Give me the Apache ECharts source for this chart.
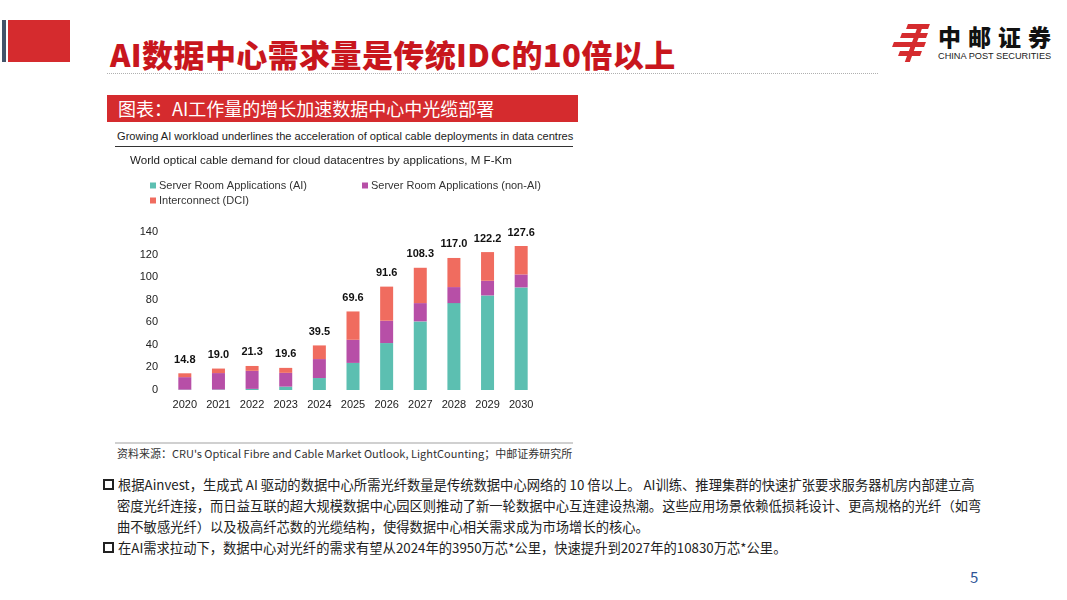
<!DOCTYPE html>
<html>
<head>
<meta charset="utf-8">
<script src="https://cdn.jsdelivr.net/npm/echarts@6/dist/echarts.min.js"></script>
<style>
  html, body { margin: 0; padding: 0; background: #fff; }
  body { width: 1067px; height: 600px; position: relative; overflow: hidden; font-family: "Noto Sans CJK SC", "Noto Sans", sans-serif; }
  .abs { position: absolute; }
  #title { left: 110px; top: 33px; font-size: 31px; font-weight: 900; color: #c8161d; letter-spacing: 0.4px; white-space: nowrap; line-height: 42px; }
  #dots { left: 107px; top: 73px; width: 771px; border-top: 1px dotted #b0b0b0; }
  #cap { left: 107px; top: 95px; width: 471px; height: 27px; background: #d52b2e; color: #fff; font-size: 18px; line-height: 27px; padding-left: 11px; box-sizing: border-box; white-space: nowrap; }
  #sub { left: 117px; top: 130px; font-family: "Liberation Sans", Arial, sans-serif; font-size: 11.1px; color: #222; white-space: nowrap; }
  #subline { left: 115px; top: 146px; width: 458px; border-top: 1px solid #333; }
  #srcline { left: 115px; top: 442px; width: 458px; border-top: 2px solid #d0d0d0; }
  #src { left: 117px; top: 445px; font-size: 11px; color: #333; white-space: nowrap; }
  .txt { left: 103px; font-size: 13.3px; color: #222; white-space: nowrap; line-height: 21px; }
  .box { display: inline-block; width: 7px; height: 7px; border: 2px solid #222; margin-right: 4px; vertical-align: 0px; }
  .ind { padding-left: 14px; }
  #pg { left: 970px; top: 566px; font-size: 15px; color: #2f5597; }
  #chart { left: 107px; top: 150px; width: 470px; height: 275px; }
</style>
</head>
<body>
<div class="abs" style="left:2px;top:20px;width:4px;height:42px;background:#44546a"></div>
<div class="abs" style="left:8px;top:20px;width:62px;height:42px;background:#d52b2e"></div>
<div class="abs" id="title">AI数据中心需求量是传统IDC的10倍以上</div>
<div class="abs" id="dots"></div>

<!-- logo -->
<div class="abs" style="left:893px;top:24px;width:40px;height:40px">
  <div class="abs" style="left:14px;top:0px;width:22px;height:5px;background:#d52b2e;transform:skewX(-20deg)"></div>
  <div class="abs" style="left:8px;top:9px;width:26px;height:5px;background:#d52b2e;transform:skewX(-20deg)"></div>
  <div class="abs" style="left:0px;top:18px;width:32px;height:5px;background:#d52b2e;transform:skewX(-20deg)"></div>
  <div class="abs" style="left:6px;top:27px;width:22px;height:5px;background:#d52b2e;transform:skewX(-20deg)"></div>
  <div class="abs" style="left:18px;top:4px;width:5px;height:34px;background:#d52b2e;transform:skewX(-20deg)"></div>
</div>
<div class="abs" style="left:938px;top:19px;font-size:23px;font-weight:900;color:#111;letter-spacing:7px;white-space:nowrap;line-height:34px">中邮证券</div>
<div class="abs" style="left:938px;top:51px;font-family:'Liberation Sans',Arial,sans-serif;font-size:9.2px;color:#222;white-space:nowrap">CHINA POST SECURITIES</div>

<div class="abs" id="cap">图表：AI工作量的增长加速数据中心中光缆部署</div>
<div class="abs" id="sub">Growing AI workload underlines the acceleration of optical cable deployments in data centres</div>
<div class="abs" id="subline"></div>
<div class="abs" id="chart"></div>
<div class="abs" id="srcline"></div>
<div class="abs" id="src">资料来源：CRU's Optical Fibre and Cable Market Outlook, LightCounting；中邮证券研究所</div>

<div class="abs txt" style="top:474px"><span class="box"></span>根据Ainvest，生成式 AI 驱动的数据中心所需光纤数量是传统数据中心网络的 10 倍以上。 AI训练、推理集群的快速扩张要求服务器机房内部建立高</div>
<div class="abs txt ind" style="top:495px">密度光纤连接，而日益互联的超大规模数据中心园区则推动了新一轮数据中心互连建设热潮。这些应用场景依赖低损耗设计、更高规格的光纤（如弯</div>
<div class="abs txt ind" style="top:516px">曲不敏感光纤）以及极高纤芯数的光缆结构，使得数据中心相关需求成为市场增长的核心。</div>
<div class="abs txt" style="top:537px"><span class="box"></span>在AI需求拉动下，数据中心对光纤的需求有望从2024年的3950万芯*公里，快速提升到2027年的10830万芯*公里。</div>
<div class="abs" id="pg">5</div>

<script>
// 年份
var years = ['2020', '2021', '2022', '2023', '2024', '2025', '2026', '2027', '2028', '2029', '2030'];
// Server Room Applications (AI)
var aiData = [0.3, 0.4, 1.0, 3.0, 10.6, 24.0, 41.6, 60.8, 77.0, 83.8, 90.9];
// Server Room Applications (non-AI)
var nonAiData = [11.1, 14.6, 16.0, 12.2, 16.8, 20.5, 19.8, 16.2, 14.2, 13.0, 11.5];
// Interconnect (DCI)
var dciData = [3.4, 4.0, 4.3, 4.4, 12.1, 25.1, 30.2, 31.3, 25.8, 25.4, 25.2];
// 柱顶合计标签
var totalLabels = ['14.8', '19.0', '21.3', '19.6', '39.5', '69.6', '91.6', '108.3', '117.0', '122.2', '127.6'];
var seriesNames = ['Server Room Applications (AI)', 'Server Room Applications (non-AI)', 'Interconnect (DCI)'];
var colors = ['#5cbfb1', '#b74fa7', '#f06c5f'];

var font = '"Liberation Sans", Arial, sans-serif';
var myChart = echarts.init(document.getElementById('chart'), null, { renderer: 'canvas' });

function legendItem(name, left, top) {
    return {
        data: [name],
        left: left,
        top: top,
        icon: 'rect',
        itemWidth: 6,
        itemHeight: 6,
        itemGap: 0,
        padding: 0,
        selectedMode: false,
        textStyle: { fontFamily: font, fontSize: 11, color: '#333', padding: [0, 0, 0, -2] }
    };
}

myChart.setOption({
    animation: false,
    color: colors,
    title: {
        text: 'World optical cable demand for cloud datacentres by applications, M F-Km',
        left: 23,
        top: 5,
        padding: 0,
        textStyle: { fontFamily: font, fontSize: 11.6, fontWeight: 'normal', color: '#222' }
    },
    legend: [
        legendItem(seriesNames[0], 43, 30),
        legendItem(seriesNames[1], 255, 30),
        legendItem(seriesNames[2], 43, 45)
    ],
    grid: { left: 61, top: 82, width: 370, height: 158, containLabel: false },
    xAxis: {
        type: 'category',
        data: years,
        axisLine: { show: false },
        axisTick: { show: false },
        axisLabel: { fontFamily: font, fontSize: 11, color: '#222', margin: 9 }
    },
    yAxis: {
        type: 'value',
        min: 0,
        max: 140,
        interval: 20,
        axisLine: { show: false },
        axisTick: { show: false },
        splitLine: { show: false },
        axisLabel: { fontFamily: font, fontSize: 11, color: '#222', margin: 10 }
    },
    series: [
        { name: seriesNames[0], type: 'bar', stack: 'total', barWidth: 13, data: aiData },
        { name: seriesNames[1], type: 'bar', stack: 'total', barWidth: 13, data: nonAiData },
        {
            name: seriesNames[2], type: 'bar', stack: 'total', barWidth: 13, data: dciData,
            label: {
                show: true,
                position: 'top',
                distance: 8,
                fontFamily: font,
                fontSize: 11,
                fontWeight: 'bold',
                color: '#111',
                formatter: function (p) { return totalLabels[p.dataIndex]; }
            }
        }
    ]
});
</script>
</body>
</html>
